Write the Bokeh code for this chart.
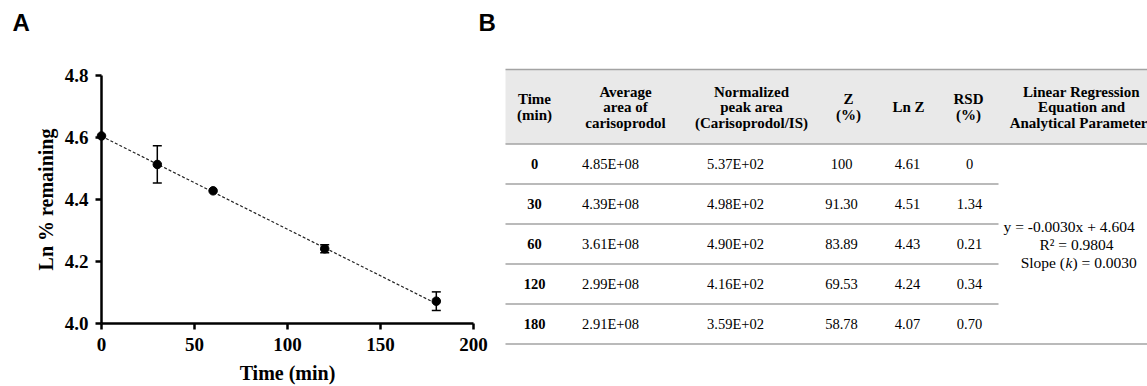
from bokeh.plotting import figure
from bokeh.models import Range1d, FixedTicker, Whisker, TeeHead, ColumnDataSource, PrintfTickFormatter
from bokeh.embed import file_html
from bokeh.resources import INLINE
from bokeh.core.properties import value

# ---------------- data ----------------
time_min = [0, 30, 60, 120, 180]
ln_remaining = [4.605, 4.513, 4.428, 4.241, 4.072]
ln_error = [0.0, 0.060, 0.0, 0.013, 0.030]
fit_slope = -0.0030
fit_intercept = 4.604
fit_r2 = 0.9804
x_ticks = [0, 50, 100, 150, 200]
y_ticks = [4.0, 4.2, 4.4, 4.6, 4.8]

table_headers = [
    ["Time", "(min)"],
    ["Average", "area of", "carisoprodol"],
    ["Normalized", "peak area", "(Carisoprodol/IS)"],
    ["Z", "(%)"],
    ["Ln Z"],
    ["RSD", "(%)"],
    ["Linear Regression", "Equation and", "Analytical Parameters"],
]
table_time = ["0", "30", "60", "120", "180"]
avg_area = ["4.85E+08", "4.39E+08", "3.61E+08", "2.99E+08", "2.91E+08"]
norm_area = ["5.37E+02", "4.98E+02", "4.90E+02", "4.16E+02", "3.59E+02"]
z_pct = ["100", "91.30", "83.89", "69.53", "58.78"]
ln_z = ["4.61", "4.51", "4.43", "4.24", "4.07"]
rsd_pct = ["0", "1.34", "0.21", "0.34", "0.70"]

SERIF = "Liberation Serif"
SANS = "Liberation Sans"

# ---------------- layout (pixels) ----------------
W, H = 1147, 386
ax_left_px, ax_right_px = 101, 473     # x = 0 and x = 200
ax_bottom_px, ax_top_px = 323, 75      # y = 4.0 and y = 4.8

xmin, xmax = x_ticks[0], x_ticks[-1]
ymin, ymax = y_ticks[0], y_ticks[-1]
sx = (ax_right_px - ax_left_px) / (xmax - xmin)
sy = (ax_bottom_px - ax_top_px) / (ymax - ymin)
x_range = Range1d(xmin - ax_left_px / sx, xmax + (W - ax_right_px) / sx)
y_range = Range1d(ymin - (H - ax_bottom_px) / sy, ymax + ax_top_px / sy)

p = figure(width=W, height=H, x_range=x_range, y_range=y_range,
           output_backend="svg", toolbar_location=None, min_border=0)
p.outline_line_color = None
p.grid.visible = False
p.background_fill_color = "white"
p.border_fill_color = "white"
p.extra_x_ranges = {"px": Range1d(0, W)}
p.extra_y_ranges = {"py": Range1d(H, 0)}

# ---------------- panel A ----------------
for ax in (p.xaxis[0], p.yaxis[0]):
    ax.axis_line_width = 2.5
    ax.axis_line_color = "black"
    ax.major_tick_line_width = 2.5
    ax.major_tick_line_color = "black"
    ax.major_tick_out = 6
    ax.major_tick_in = 0
    ax.minor_tick_line_color = None
    ax.major_label_text_font = SERIF
    ax.major_label_text_font_style = "bold"
    ax.major_label_text_font_size = "19px"
    ax.major_label_text_color = "black"
    ax.axis_label_text_font = SERIF
    ax.axis_label_text_font_style = "bold"
    ax.axis_label_text_font_size = "20px"
    ax.axis_label_text_color = "black"

p.xaxis.ticker = FixedTicker(ticks=x_ticks)
p.yaxis.ticker = FixedTicker(ticks=y_ticks)
p.yaxis.formatter = PrintfTickFormatter(format="%.1f")
p.xaxis.bounds = (xmin, xmax)
p.yaxis.bounds = (ymin, ymax)
p.xaxis.fixed_location = ymin
p.yaxis.fixed_location = xmin
p.xaxis.axis_label = "Time (min)"
p.yaxis.axis_label = "Ln % remaining"
p.xaxis.major_label_standoff = 8
p.yaxis.major_label_standoff = 7
p.xaxis.axis_label_standoff = 8
p.yaxis.axis_label_standoff = 5

fit_x = [time_min[0], time_min[-1]]
fit_y = [fit_intercept + fit_slope * x for x in fit_x]
p.line(fit_x, fit_y, line_color="#222222", line_width=1.2, line_dash="3 2")

wx = [t for t, e in zip(time_min, ln_error) if e > 0]
wu = [v + e for v, e in zip(ln_remaining, ln_error) if e > 0]
wl = [v - e for v, e in zip(ln_remaining, ln_error) if e > 0]
wsrc = ColumnDataSource(dict(x=wx, upper=wu, lower=wl))
p.add_layout(Whisker(source=wsrc, base="x", upper="upper", lower="lower", dimension="height",
                     line_color="black", line_width=1.5,
                     upper_head=TeeHead(size=9, line_width=1.5, line_color="black"),
                     lower_head=TeeHead(size=9, line_width=1.5, line_color="black")))
p.scatter(time_min, ln_remaining, size=8.5, color="black")

# panel letters
p.text(x=[12, 478], y=[22, 22], text=["A", "B"], x_range_name="px", y_range_name="py",
       text_font=value(SANS), text_font_style="bold", text_font_size="24px",
       text_align="left", text_baseline="middle", text_color="black")

# ---------------- panel B (table) ----------------
TX = dict(x_range_name="px", y_range_name="py")
tbl_left, tbl_right, inner_right = 505, W + 10, 998
hdr_top, hdr_bot = 69, 143.5
row_h = 40
row_lines = [hdr_bot + row_h * (i + 1) for i in range(len(table_time) - 1)]
tbl_bottom = hdr_bot + row_h * len(table_time)

p.quad(left=[tbl_left], right=[tbl_right], top=[hdr_top], bottom=[hdr_bot],
       fill_color="#e9e9e9", line_color=None, **TX)
p.segment(x0=[tbl_left] * 3, x1=[tbl_right] * 3, y0=[hdr_top, hdr_bot, tbl_bottom],
          y1=[hdr_top, hdr_bot, tbl_bottom], line_color="#a3a3a3", line_width=1.5, **TX)
p.segment(x0=[tbl_left] * len(row_lines), x1=[inner_right] * len(row_lines), y0=row_lines,
          y1=row_lines, line_color="#a3a3a3", line_width=1.5, **TX)

hdr_x = [534, 625, 751, 848, 908, 968, 1081]
hdr_mid, hdr_gap = 106.5, 15.5
hx, hy, ht = [], [], []
for cx, lines in zip(hdr_x, table_headers):
    n = len(lines)
    for i, t in enumerate(lines):
        hx.append(cx)
        hy.append(hdr_mid + (i - (n - 1) / 2) * hdr_gap)
        ht.append(t)
p.text(x=hx, y=hy, text=ht, text_font=value(SERIF), text_font_style="bold",
       text_font_size="15px", text_align="center", text_baseline="middle",
       text_color="black", **TX)

row_y = [hdr_bot + row_h * (i + 0.5) - 0.5 for i in range(len(table_time))]
p.text(x=[534] * len(table_time), y=row_y, text=table_time, text_font=value(SERIF),
       text_font_style="bold", text_font_size="14.5px", text_align="center",
       text_baseline="middle", text_color="black", **TX)
val_x = [610, 735, 841, 907, 969]
for cx, col in zip(val_x, [avg_area, norm_area, z_pct, ln_z, rsd_pct]):
    p.text(x=[cx] * len(col), y=row_y, text=col, text_font=value(SERIF),
           text_font_size="14.5px", text_align="center", text_baseline="middle",
           text_color="black", **TX)

reg_mid = hdr_bot + row_h * len(table_time) / 2
reg_gap = 18
eq_text = f"y = {fit_slope:.4f}x + {fit_intercept:.3f}"
r2_text = f"R\u00b2 = {fit_r2:.4f}"
p.text(x=[1003], y=[reg_mid - reg_gap], text=[eq_text],
       text_font=value(SERIF), text_font_size="15.5px", text_align="left",
       text_baseline="middle", text_color="black", **TX)
p.text(x=[1076], y=[reg_mid], text=[r2_text],
       text_font=value(SERIF), text_font_size="15.5px", text_align="center",
       text_baseline="middle", text_color="black", **TX)
sy_line = reg_mid + reg_gap
p.text(x=[1064.5], y=[sy_line], text=["Slope ("], text_font=value(SERIF),
       text_font_size="15.5px", text_align="right", text_baseline="middle",
       text_color="black", **TX)
p.text(x=[1065], y=[sy_line], text=["k"], text_font=value(SERIF), text_font_style="italic",
       text_font_size="15.5px", text_align="left", text_baseline="middle",
       text_color="black", **TX)
p.text(x=[1072], y=[sy_line], text=[f") = {abs(fit_slope):.4f}"], text_font=value(SERIF),
       text_font_size="15.5px", text_align="left", text_baseline="middle",
       text_color="black", **TX)

open("out.html", "w").write(file_html(p, INLINE))
